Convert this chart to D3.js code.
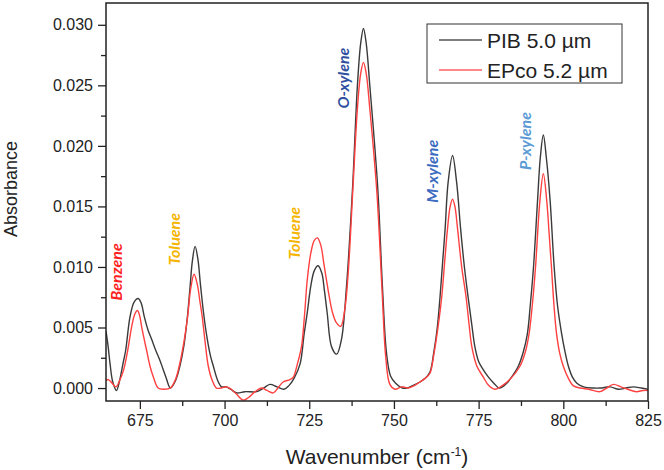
<!DOCTYPE html>
<html><head><meta charset="utf-8">
<script src="https://cdn.jsdelivr.net/npm/d3@7"></script>
<style>body{margin:0;background:#fff}svg{display:block}</style>
</head><body><svg id="c" width="664" height="470"></svg>
<script>
// ---- data ----
const xTicks = [675, 700, 725, 750, 775, 800, 825];
const yTicks = [0, 0.005, 0.010, 0.015, 0.020, 0.025, 0.030];
const seriesNames = ["PIB 5.0 \u00b5m", "EPco 5.2 \u00b5m"];
const pibPoints = [
 [665.0,0.0047],[665.6,0.0035],[666.2,0.0020],[667.0,0.0005],[668.1,-0.0002],[669.0,0.0006],[670.0,0.0020],
 [670.8,0.0031],[672.1,0.0059],[673.3,0.0071],[674.5,0.0074],[675.4,0.0070],[676.3,0.0059],[677.4,0.0048],
 [678.5,0.0040],[679.7,0.0031],[680.9,0.0023],[681.8,0.0016],[682.7,0.0009],[684.0,0.0000],[685.5,0.0006],
 [686.8,0.0018],[688.0,0.0035],[689.0,0.0058],[689.8,0.0083],[690.5,0.0105],[691.3,0.0117],[692.1,0.0107],
 [692.9,0.0085],[693.8,0.0062],[694.8,0.0042],[695.8,0.0027],[696.7,0.0018],[698.0,0.0006],[699.1,0.0001],
 [700.5,0.0001],[701.8,-0.0001],[703.6,-0.0004],[706.0,-0.0003],[709.5,-0.0003],[711.5,0.0000],[713.4,0.0003],
 [715.5,0.0001],[717.5,-0.0001],[719.0,0.0002],[720.5,0.0008],[722.3,0.0020],[723.5,0.0045],[724.4,0.0062],
 [725.5,0.0085],[726.5,0.0097],[727.6,0.0101],[728.7,0.0095],[729.5,0.0080],[730.3,0.0062],[731.6,0.0034],
 [733.1,0.0028],[734.5,0.0040],[736.0,0.0084],[737.8,0.0166],[739.2,0.0249],[740.2,0.0285],[741.0,0.0297],
 [741.8,0.0285],[742.9,0.0249],[745.2,0.0166],[746.6,0.0084],[747.8,0.0029],[749.0,0.0010],[750.5,0.0004],
 [752.5,0.0000],[753.7,0.0000],[755.5,0.0002],[757.7,0.0005],[759.2,0.0008],[760.6,0.0013],[761.8,0.0030],
 [762.8,0.0050],[763.6,0.0075],[764.4,0.0105],[765.1,0.0131],[766.0,0.0170],[767.3,0.0192],[768.5,0.0170],
 [769.7,0.0131],[770.8,0.0100],[771.9,0.0075],[773.0,0.0052],[773.9,0.0034],[775.0,0.0022],[776.4,0.0015],
 [777.9,0.0009],[779.5,0.0004],[781.1,0.0000],[783.3,0.0004],[784.2,0.0007],[786.7,0.0018],[788.2,0.0030],
 [789.4,0.0045],[790.3,0.0070],[791.2,0.0100],[792.4,0.0155],[793.2,0.0190],[794.1,0.0209],[795.0,0.0190],
 [796.1,0.0155],[797.3,0.0100],[798.3,0.0068],[799.5,0.0045],[800.5,0.0030],[801.5,0.0018],[802.7,0.0009],
 [804.0,0.0004],[806.0,0.0001],[808.8,0.0000],[811.0,0.0000],[813.8,0.0001],[816.3,-0.0001],[818.5,0.0000],
 [820.7,0.0001],[823.0,0.0000],[825.0,-0.0001]
];
const epcoPoints = [
 [665.0,0.0006],[665.7,0.0007],[666.8,0.0004],[667.9,0.0001],[669.0,0.0006],[670.2,0.0015],[671.4,0.0031],
 [672.6,0.0051],[673.5,0.0061],[674.3,0.0064],[675.0,0.0059],[675.5,0.0051],[676.3,0.0040],[677.0,0.0031],
 [678.0,0.0018],[679.0,0.0009],[680.4,0.0000],[682.0,-0.0001],[684.0,0.0000],[685.5,0.0007],[686.6,0.0018],
 [688.0,0.0038],[689.1,0.0059],[690.0,0.0082],[691.0,0.0094],[692.0,0.0085],[692.7,0.0072],[693.4,0.0059],
 [694.3,0.0037],[695.2,0.0018],[696.4,0.0006],[697.6,0.0000],[699.0,0.0000],[700.6,0.0001],[702.0,-0.0001],
 [703.5,-0.0005],[705.5,-0.0010],[707.0,-0.0008],[709.0,-0.0003],[711.0,0.0000],[712.5,-0.0002],[714.4,-0.0004],
 [716.0,0.0001],[717.3,0.0005],[719.3,0.0007],[720.3,0.0009],[721.5,0.0020],[722.7,0.0034],[723.6,0.0060],
 [724.4,0.0089],[725.5,0.0112],[726.5,0.0122],[727.4,0.0124],[728.4,0.0118],[729.3,0.0103],[730.1,0.0089],
 [731.0,0.0074],[731.9,0.0062],[733.0,0.0054],[734.3,0.0051],[735.5,0.0065],[736.5,0.0095],[737.8,0.0160],
 [739.2,0.0230],[740.2,0.0260],[741.0,0.0269],[741.8,0.0260],[742.9,0.0230],[745.0,0.0160],[746.5,0.0080],
 [747.6,0.0025],[748.8,0.0003],[750.3,-0.0001],[752.3,0.0001],[754.3,0.0000],[756.0,0.0002],[757.7,0.0005],
 [759.2,0.0008],[760.6,0.0012],[761.8,0.0028],[763.0,0.0050],[764.1,0.0075],[765.0,0.0105],[765.8,0.0131],
 [766.6,0.0150],[767.3,0.0156],[768.0,0.0150],[768.8,0.0131],[770.0,0.0100],[771.3,0.0075],[772.2,0.0052],
 [773.0,0.0034],[774.5,0.0018],[776.4,0.0009],[778.0,0.0002],[779.8,-0.0001],[782.0,0.0002],[784.2,0.0007],
 [787.2,0.0018],[788.8,0.0030],[789.9,0.0045],[790.9,0.0070],[791.8,0.0100],[793.1,0.0155],[794.1,0.0177],
 [795.1,0.0155],[795.8,0.0128],[796.5,0.0100],[797.2,0.0070],[798.0,0.0045],[799.0,0.0028],[800.0,0.0018],
 [801.5,0.0008],[802.9,0.0002],[805.0,0.0000],[807.5,-0.0001],[810.8,-0.0003],[812.8,0.0000],[814.8,0.0003],
 [817.0,0.0001],[819.0,-0.0001],[821.6,-0.0003],[823.5,-0.0002],[825.0,-0.0002]
];
const annotations = [
 {label:"Benzene",  wn:668.2, val:0.0096, color:"#ff1f1f"},
 {label:"Toluene",  wn:685.3, val:0.0123, color:"#f5b400"},
 {label:"Toluene",  wn:720.7, val:0.0128, color:"#f5b400"},
 {label:"O-xylene", wn:735.0, val:0.0256, color:"#2f4f9f"},
 {label:"M-xylene", wn:761.3, val:0.0179, color:"#3b6cbf"},
 {label:"P-xylene", wn:788.7, val:0.0204, color:"#5b9bd5"}
];

// ---- drawing ----
const svg = d3.select("#c");
const L = 106, R = 648, T = 3, B = 401;
const x = d3.scaleLinear().domain([665, 825]).range([L, R]);
const y = d3.scaleLinear().domain([-0.00107, 0.0318]).range([B, T]);
const font = "'Liberation Sans', Arial, sans-serif";

svg.append("clipPath").attr("id","clip").append("rect")
  .attr("x",L).attr("y",T).attr("width",R-L).attr("height",B-T);

const line = d3.line().x(d=>x(d[0])).y(d=>y(d[1])).curve(d3.curveCatmullRom.alpha(0.5));
const g = svg.append("g").attr("clip-path","url(#clip)");
g.append("path").datum(pibPoints).attr("d",line).attr("fill","none")
  .attr("stroke","#3a3a3a").attr("stroke-width",1.4).attr("stroke-linejoin","round");
g.append("path").datum(epcoPoints).attr("d",line).attr("fill","none")
  .attr("stroke","#ff4040").attr("stroke-width",1.4).attr("stroke-linejoin","round");

// axes
const minorY = d3.range(0.0025, 0.031, 0.005);
const minorX = d3.range(687.5, 825, 25);
svg.append("g").attr("transform",`translate(0,${B})`)
  .call(d3.axisBottom(x).tickValues(xTicks).tickSize(8).tickPadding(6).tickSizeOuter(0));
svg.append("g").attr("transform",`translate(0,${B})`)
  .call(d3.axisBottom(x).tickValues(minorX).tickSize(5).tickFormat("").tickSizeOuter(0));
svg.append("g").attr("transform",`translate(${L},0)`)
  .call(d3.axisLeft(y).tickValues(yTicks).tickFormat(d3.format(".3f")).tickSize(8).tickPadding(5).tickSizeOuter(0));
svg.append("g").attr("transform",`translate(${L},0)`)
  .call(d3.axisLeft(y).tickValues(minorY).tickSize(5).tickFormat("").tickSizeOuter(0));
svg.selectAll(".domain").remove();
svg.selectAll(".tick line").attr("stroke","#222").attr("stroke-width",1.3);
svg.selectAll(".tick text").attr("font-family",font).attr("font-size",16).attr("fill","#222");

// frame
svg.append("rect").attr("x",L).attr("y",T).attr("width",R-L).attr("height",B-T)
  .attr("fill","none").attr("stroke","#222").attr("stroke-width",1.5);

// axis titles
const xt = svg.append("text").attr("x",(L+R)/2).attr("y",464).attr("text-anchor","middle")
  .attr("font-family",font).attr("font-size",21).attr("fill","#222");
xt.append("tspan").text("Wavenumber (cm");
xt.append("tspan").attr("dy",-8).attr("font-size",12).text("-1");
xt.append("tspan").attr("dy",8).text(")");
svg.append("text").attr("transform",`translate(17,189) rotate(-90)`).attr("text-anchor","middle")
  .attr("font-family",font).attr("font-size",18).attr("fill","#222").text("Absorbance");

// annotations
svg.selectAll(".ann").data(annotations).join("text").attr("class","ann")
  .attr("transform",d=>`translate(${x(d.wn)},${y(d.val)}) rotate(-90)`)
  .attr("text-anchor","middle").attr("dy","0.35em")
  .attr("font-family","Lato, 'Open Sans', sans-serif").attr("font-weight","bold").attr("font-style","italic")
  .attr("font-size",16).attr("fill",d=>d.color).text(d=>d.label);

// legend
const lg = svg.append("g");
lg.append("rect").attr("x",427).attr("y",24).attr("width",195).attr("height",59)
  .attr("fill","#fff").attr("stroke","#333").attr("stroke-width",1);
const lc = ["#555", "#ff6060"];
seriesNames.forEach((n,i)=>{
  const yy = 40 + i*30;
  lg.append("line").attr("x1",439).attr("x2",482).attr("y1",yy).attr("y2",yy)
    .attr("stroke",lc[i]).attr("stroke-width",1.4);
  lg.append("text").attr("x",487).attr("y",yy+8).attr("font-family",font).attr("font-size",21)
    .attr("fill","#222").text(n);
});
</script></body></html>
